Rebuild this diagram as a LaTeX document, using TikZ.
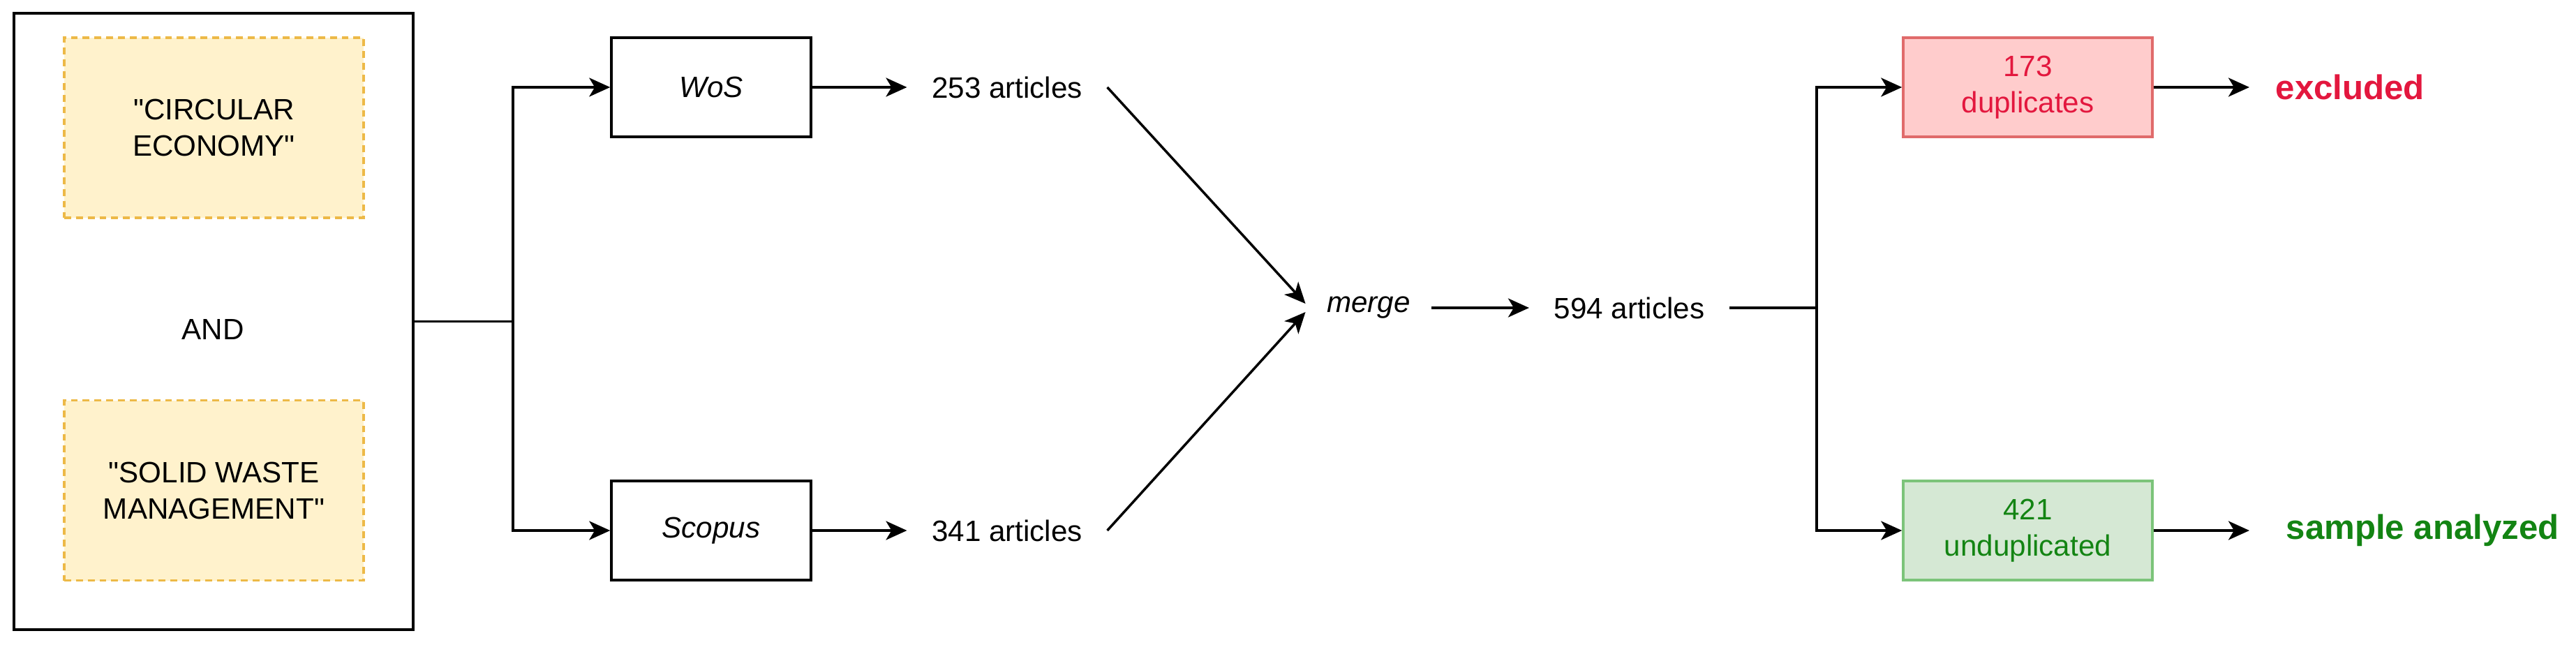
\documentclass[tikz,border=0pt]{standalone}
\usepackage{fontspec}
\setmainfont{Liberation Sans}
\usepackage{xcolor}
\usetikzlibrary{positioning, arrows.meta}

\definecolor{termfill}{HTML}{FFF2CC}
\definecolor{termdraw}{HTML}{EDB947}
\definecolor{dupfill}{HTML}{FFCCCC}
\definecolor{dupdraw}{HTML}{E06B6B}
\definecolor{duptext}{HTML}{E3173E}
\definecolor{undupfill}{HTML}{D5E8D4}
\definecolor{undupdraw}{HTML}{7CC47A}
\definecolor{unduptext}{HTML}{138413}

\begin{document}
\begin{tikzpicture}[
    font=\fontsize{12}{14.8}\selectfont,
    query/.style={
        draw,
        line width=1pt,
        minimum width=5.72cm,
        minimum height=8.83cm,
        inner sep=0pt
    },
    term/.style={
        draw=termdraw,
        fill=termfill,
        line width=1.1pt,
        dash pattern=on 2.8pt off 2pt,
        minimum width=4.29cm,
        minimum height=2.58cm,
        align=center
    },
    source/.style={
        draw,
        line width=1pt,
        minimum width=2.86cm,
        minimum height=1.42cm,
        font=\fontsize{12}{14.8}\selectfont\itshape
    },
    count/.style={inner xsep=0.35cm, inner ysep=2pt},
    result/.style={
        line width=1pt,
        minimum width=3.57cm,
        minimum height=1.42cm,
        align=center
    },
    outcome/.style={font=\fontsize{14}{16}\selectfont\bfseries, inner ysep=2pt},
    arr/.style={-{Stealth[length=3mm, width=2.7mm, inset=0.8mm]}, line width=1pt}
]

\useasboundingbox (0,0) rectangle (36.91,-9.24);

% search query
\node[query] (search) at (3.06,-4.605) {};
\node[term]  (circ)   at (3.065,-1.83)  {\textquotedbl CIRCULAR\\ECONOMY\textquotedbl};
\node        (conj)   at (3.05,-4.72)   {AND};
\node[term]  (swm)    at (3.065,-7.025) {\textquotedbl SOLID WASTE\\MANAGEMENT\textquotedbl};

% databases
\coordinate (split1) at (7.35,-4.605);
\node[source] (wos)    at (10.19,-1.25) {WoS};
\node[source] (scopus) at (10.19,-7.60) {Scopus};

\node[count] (n253) at (14.43,-1.25) {253 articles};
\node[count] (n341) at (14.43,-7.60) {341 articles};

\node[count, inner xsep=0.3cm, font=\fontsize{12}{14.8}\selectfont\itshape] (merge) at (19.61,-4.41) {merge};
\node[count] (n594) at (23.345,-4.41) {594 articles};

% screening
\coordinate (split2) at (26.03,-4.41);
\node[result, draw=dupdraw, fill=dupfill, text=duptext]       (dup)   at (29.055,-1.25) {173\\duplicates};
\node[result, draw=undupdraw, fill=undupfill, text=unduptext] (undup) at (29.055,-7.60) {421\\unduplicated};

\node[outcome, text=duptext, anchor=west, inner xsep=0.37cm]   (excl)   at (32.23,-1.25) {excluded};
\node[outcome, text=unduptext, anchor=west, inner xsep=0.52cm] (sample) at (32.23,-7.60) {sample analyzed};

\draw[line width=1pt] (search.east) -- (split1);
\draw[arr] (split1) |- (wos.west);
\draw[arr] (split1) |- (scopus.west);

\draw[arr] (wos.east) -- (n253.west);
\draw[arr] (scopus.east) -- (n341.west);

\draw[arr] (n253.east) -- ([yshift=0.06cm]merge.west);
\draw[arr] (n341.east) -- ([yshift=-0.06cm]merge.west);
\draw[arr] (merge.east) -- (n594.west);

\draw[line width=1pt] (n594.east) -- (split2);
\draw[arr] (split2) |- (dup.west);
\draw[arr] (split2) |- (undup.west);

\draw[arr] (dup.east) -- (excl.west);
\draw[arr] (undup.east) -- (sample.west);

\end{tikzpicture}
\end{document}
